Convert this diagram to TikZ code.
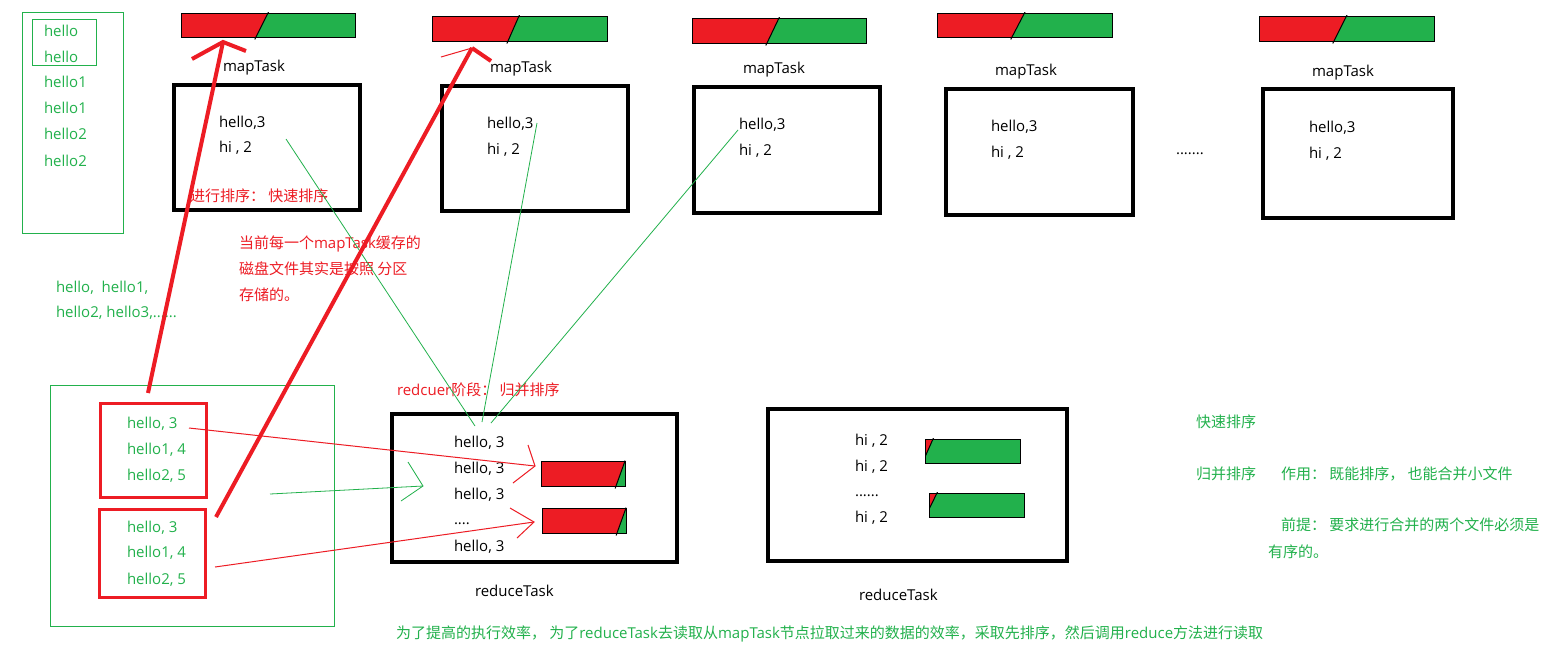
\documentclass[tikz,border=0pt]{standalone}
\usepackage{fontspec}
\setmainfont{Open Sans}
\newfontfamily\cjk[Scale=1.0]{Noto Sans CJK SC}
\usetikzlibrary{calc}
\definecolor{pred}{RGB}{237,28,36}
\definecolor{pgreen}{RGB}{34,177,76}
\newcommand\taskbar[6]{%
  \begin{scope}
    \clip (#1,#2) rectangle (#3,#4);
    \fill[pred] (#1-30,#2) -- (#5,#2) -- (#6,#4) -- (#1-30,#4) -- cycle;
    \fill[pgreen] (#5,#2) -- (#3+30,#2) -- (#3+30,#4) -- (#6,#4) -- cycle;
  \end{scope}
  \draw[line width=1pt] (#1,#2) rectangle (#3,#4);
  \begin{scope}
    \clip (#1,#2-1) rectangle (#3,#4+2.5);
    \draw[line width=1pt] ($(#5,#2)!-0.05!(#6,#4)$) -- ($(#5,#2)!1.1!(#6,#4)$);
  \end{scope}}
\begin{document}
\begin{tikzpicture}[x=1pt,y=-1pt,
  txt/.style={inner sep=0pt, outer sep=0pt, anchor=base west, font=\fontsize{15}{18}\selectfont},
  gtxt/.style={txt, text=pgreen},
  rtxt/.style={txt, text=pred},
  thickbox/.style={draw=black, line width=4.5pt, inner sep=0pt, outer sep=0pt, anchor=north west},
  redbox/.style={draw=pred, line width=3pt, inner sep=0pt, outer sep=0pt, anchor=north west},
  greenbox/.style={draw=pgreen, line width=1pt, inner sep=0pt, outer sep=0pt, anchor=north west},
  rthick/.style={draw=pred, line width=4pt},
  rthin/.style={draw=pred, line width=1pt},
  gthin/.style={draw=pgreen, line width=0.8pt}]
\fill[white] (0,0) rectangle (1565,665);
\useasboundingbox (0,0) rectangle (1565,665);

% bars
\taskbar{181}{13}{355}{37}{268}{256}
\taskbar{432}{16}{607}{41}{519}{508}
\taskbar{692}{18}{866}{43}{779}{767}
\taskbar{937}{13}{1112}{37}{1024.5}{1012}
\taskbar{1259}{16}{1434}{41}{1346.5}{1334}
\taskbar{541}{461}{625}{486}{625}{616}
\taskbar{542}{508}{626}{533}{626}{617}
\taskbar{925}{439}{1020}{463}{933}{922.3}
\taskbar{929}{493}{1024}{517}{937}{925.2}

% boxes
\node[greenbox, minimum width=101, minimum height=221] (gL) at (22.5,12.5) {};
\node[greenbox, minimum width=64, minimum height=46] (gI) at (32.5,19.5) {};
\node[greenbox, minimum width=284, minimum height=241] (gB) at (50.5,385.5) {};
\node[redbox, minimum width=106, minimum height=94] (rb1) at (100.5,403.5) {};
\node[redbox, minimum width=106, minimum height=88] (rb2) at (99.5,509.5) {};
\node[thickbox, minimum width=186, minimum height=125] (m1) at (174,85) {};
\node[thickbox, minimum width=186, minimum height=125] (m2) at (442,86) {};
\node[thickbox, minimum width=186, minimum height=126] (m3) at (694,87) {};
\node[thickbox, minimum width=187, minimum height=126] (m4) at (946,89) {};
\node[thickbox, minimum width=190, minimum height=129] (m5) at (1263,89) {};
\node[thickbox, minimum width=285, minimum height=148] (r1) at (392,414) {};
\node[thickbox, minimum width=299, minimum height=152] (r2) at (768,409) {};

% left column texts
\node[gtxt] (l1) at (44,36) {hello};
\node[gtxt] (l2) at (44,62) {hello};
\node[gtxt] (l3) at (44,87) {hello1};
\node[gtxt] (l4) at (44,113) {hello1};
\node[gtxt] (l5) at (44,139) {hello2};
\node[gtxt] (l6) at (44,166) {hello2};

% mapTask labels
\node[txt] (t1) at (223,71) {mapTask};
\node[txt] (t2) at (490,72) {mapTask};
\node[txt] (t3) at (743,73) {mapTask};
\node[txt] (t4) at (995,75) {mapTask};
\node[txt] (t5) at (1312,76) {mapTask};

% map box contents
\node[txt] (a1) at (219,127) {hello,3};
\node[txt] (b1) at (219,152) {hi , 2};
\node[txt] (a2) at (487,128) {hello,3};
\node[txt] (b2) at (487,154) {hi , 2};
\node[txt] (a3) at (739,129) {hello,3};
\node[txt] (b3) at (739,155) {hi , 2};
\node[txt] (a4) at (991,131) {hello,3};
\node[txt] (b4) at (991,157) {hi , 2};
\node[txt] (a5) at (1309,132) {hello,3};
\node[txt] (b5) at (1309,158) {hi , 2};
\node[txt] (dots) at (1176,154) {.......};
\node[rtxt] (sortq) at (190,201) {{\cjk 进行排序： 快速排序}};

% red note
\node[rtxt] (n1) at (239,248) {{\cjk 当前每一个}mapTask{\cjk 缓存的}};
\node[rtxt] (n2) at (239,274) {{\cjk 磁盘文件其实是按照 分区}};
\node[rtxt] (n3) at (239,300) {{\cjk 存储的。}};

% green note
\node[gtxt] (h1) at (56,292) {hello,\ \ hello1,};
\node[gtxt] (h2) at (56,317) {hello2, hello3,......};

% lower left contents
\node[gtxt] (p1) at (127,428) {hello, 3};
\node[gtxt] (p2) at (127,454) {hello1, 4};
\node[gtxt] (p3) at (127,480) {hello2, 5};
\node[gtxt] (q1) at (127,532) {hello, 3};
\node[gtxt] (q2) at (127,557) {hello1, 4};
\node[gtxt] (q3) at (127,584) {hello2, 5};

% reduce
\node[rtxt] (rs) at (397,395) {redcuer{\cjk 阶段： 归并排序}};
\node[txt] (c1) at (454,447) {hello, 3};
\node[txt] (c2) at (454,473) {hello, 3};
\node[txt] (c3) at (454,499) {hello, 3};
\node[txt] (c4) at (454,524) {....};
\node[txt] (c5) at (454,551) {hello, 3};
\node[txt] (rt1) at (475,596) {reduceTask};
\node[txt] (d1) at (855,445) {hi , 2};
\node[txt] (d2) at (855,471) {hi , 2};
\node[txt] (d3) at (855,496) {......};
\node[txt] (d4) at (855,522) {hi , 2};
\node[txt] (rt2) at (859,600) {reduceTask};

% right notes
\node[gtxt] (k1) at (1196,427) {{\cjk 快速排序}};
\node[gtxt] (k2) at (1196,479) {{\cjk 归并排序}};
\node[gtxt] (k3) at (1281,479) {{\cjk 作用： 既能排序， 也能合并小文件}};
\node[gtxt] (k4) at (1281,530) {{\cjk 前提： 要求进行合并的两个文件必须是}};
\node[gtxt] (k5) at (1268,557) {{\cjk 有序的。}};

% bottom note
\node[gtxt] (bot) at (396,638) {{\cjk 为了提高的执行效率， 为了}reduceTask{\cjk 去读取从}mapTask{\cjk 节点拉取过来的数据的效率，采取先排序，然后调用}reduce{\cjk 方法进行读取}};

% coordinates
\coordinate (rl1s) at (148,393); \coordinate (rl1t) at (223,42);
\coordinate (rl1a) at (192,59);  \coordinate (rl1b) at (246,51);
\coordinate (rl2s) at (216,517); \coordinate (rl2t) at (472,48);
\coordinate (rl2a) at (441,57);  \coordinate (rl2b) at (491,61);
\coordinate (ra1s) at (189,428); \coordinate (ra1t) at (535,466);
\coordinate (ra1a) at (528,445); \coordinate (ra1b) at (513,483);
\coordinate (ra2s) at (215,567); \coordinate (ra2t) at (534,522);
\coordinate (ra2a) at (510,508); \coordinate (ra2b) at (517,538);
\coordinate (gas) at (270,494);  \coordinate (gat) at (423,486);
\coordinate (gaa) at (408,462);  \coordinate (gab) at (401,501);
\coordinate (g1s) at (286,139);  \coordinate (g1t) at (475,426);
\coordinate (g2s) at (537,123);  \coordinate (g2t) at (482,422);
\coordinate (g3s) at (738,130);  \coordinate (g3t) at (491,423);

% green lines
\draw[gthin] (g1s) -- (g1t);
\draw[gthin] (g2s) -- (g2t);
\draw[gthin] (g3s) -- (g3t);
\draw[gthin] (gas) -- (gat);
\draw[gthin] (gaa) -- (gat) -- (gab);

% red thin arrows
\draw[rthin] (ra1s) -- (ra1t);
\draw[rthin] (ra1a) -- (ra1t) -- (ra1b);
\draw[rthin] (ra2s) -- (ra2t);
\draw[rthin] (ra2a) -- (ra2t) -- (ra2b);

% red thick arrows
\draw[rthick] (rl1s) -- (rl1t);
\draw[rthick] (rl1a) -- (rl1t) -- (rl1b);
\draw[rthick] (rl2s) -- (rl2t);
\draw[rthin] (rl2a) -- (rl2t);
\draw[rthick] (rl2t) -- (rl2b);
\end{tikzpicture}
\end{document}
